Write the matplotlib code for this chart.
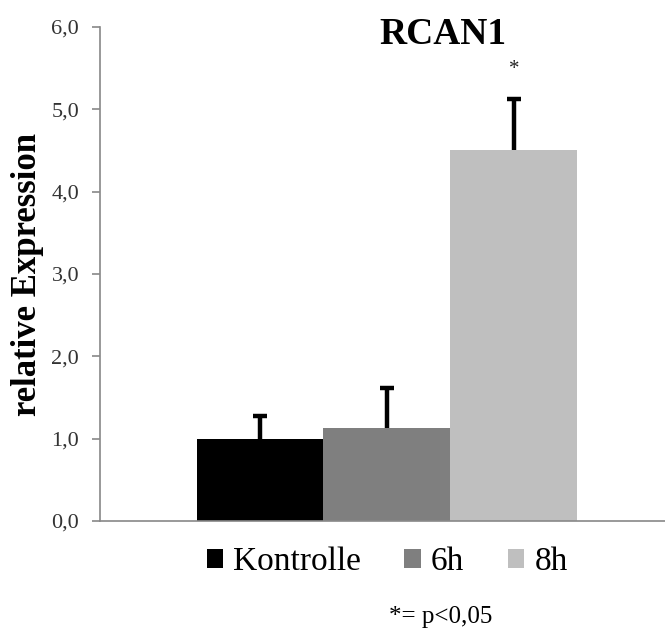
import matplotlib
matplotlib.use("Agg")
import matplotlib.pyplot as plt
from matplotlib.patches import Patch
from matplotlib.ticker import FuncFormatter

plt.rcParams['font.family'] = ['Liberation Serif', 'DejaVu Serif']

groups = ['Kontrolle', '6h', '8h']
values = [1.0, 1.13, 4.5]
err_up = [0.28, 0.49, 0.63]
colors = ['#000000', '#7f7f7f', '#bfbfbf']
sig_label = '*'
sig_y = 5.48

fig = plt.figure(figsize=(6.65, 6.32), dpi=100)
ax = fig.add_axes([0.1504, 0.1756, 0.8496, 0.7817])

x = range(len(groups))
ax.bar(x, values, width=1.0, color=colors, edgecolor='none', zorder=2)
eb = ax.errorbar(x, values, yerr=[[0] * len(values), err_up], fmt='none',
                 ecolor='black', elinewidth=3.2, capsize=5, capthick=3.2, zorder=3)
# only the upper cap is shown
eb[1][0].set_visible(False)
ax.text(2, sig_y, sig_label, ha='center', va='center', fontsize=15, color='#222222')

ax.set_xlim(-1.26, 3.19)
ax.set_ylim(0, 6)
ax.set_yticks([0, 1, 2, 3, 4, 5, 6])
ax.yaxis.set_major_formatter(FuncFormatter(lambda v, p: f"{v:.1f}".replace('.', ',')))
ax.set_xticks([])

for s in ['top', 'right']:
    ax.spines[s].set_visible(False)
for s in ['left', 'bottom']:
    ax.spines[s].set_color('#888888')
    ax.spines[s].set_linewidth(1.2)
ax.tick_params(axis='y', colors='#888888', length=6, width=1.2, labelsize=16,
               labelcolor='#333333', pad=9)

ax.set_ylabel('relative Expression', fontsize=25, fontweight='bold', labelpad=5)
fig.text(0.666, 0.945, 'RCAN1', ha='center', va='center', fontsize=27, fontweight='bold')

handles = [Patch(facecolor=c, edgecolor='none') for c in colors]
fig.legend(handles, groups, loc='center', bbox_to_anchor=(0.582, 0.111), ncol=3,
           frameon=False, fontsize=24, handlelength=0.5, handleheight=0.5,
           handletextpad=0.3, columnspacing=1.3, borderpad=0)

fig.text(0.662, 0.024, '*= p<0,05', ha='center', va='center', fontsize=18)

fig.savefig('out.png', dpi=100)
